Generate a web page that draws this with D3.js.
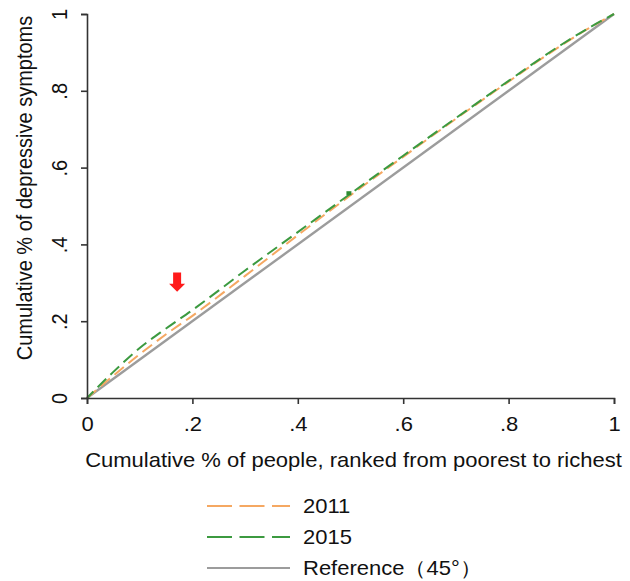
<!DOCTYPE html>
<html>
<head>
<meta charset="utf-8">
<script src="https://cdn.jsdelivr.net/npm/d3@7"></script>
<style>
  body { margin: 0; background: #fff; }
  text { font-family: "Liberation Sans", Arial, sans-serif; fill: #111; }
</style>
</head>
<body>
<div id="viz"></div>
<script>
var width = 630;
var height = 581;
var margin = {top: 14, right: 16, bottom: 183, left: 87};
var stretch = 1.1; // text in the picture is a bit wider than tall

// cumulative share of people (x) and of depressive symptoms (y)
var shares = [0, 0.05, 0.1, 0.15, 0.2, 0.3, 0.4, 0.5, 0.6, 0.7, 0.8, 0.9, 0.95, 1];
var curve2011 = [0, 0.058, 0.114, 0.166, 0.214, 0.318, 0.424, 0.528, 0.628, 0.727, 0.824, 0.918, 0.961, 1];
var curve2015 = [0, 0.068, 0.13, 0.181, 0.229, 0.332, 0.432, 0.532, 0.631, 0.729, 0.826, 0.920, 0.962, 1];
var reference = [0, 1];
var ticks = [0, 0.2, 0.4, 0.6, 0.8, 1];
var tickLabels = ['0', '.2', '.4', '.6', '.8', '1'];
var seriesNames = ['2011', '2015', 'Reference\uFF0845\u00B0\uFF09'];
var colors = ['#f5a862', '#3c9a40', '#9c9c9c'];
var marker = {x: 0.497, y: 0.532};
var arrow = {x: 0.171, top: 0.327, tip: 0.277};

var plotW = width - margin.left - margin.right;
var plotH = height - margin.top - margin.bottom;

var x = d3.scaleLinear().domain([0, 1]).range([0, plotW]);
var y = d3.scaleLinear().domain([0, 1]).range([plotH, 0]);

var svg = d3.select('#viz')
  .append('svg')
  .attr('width', width)
  .attr('height', height)
  .style('background', '#fff');

var g = svg.append('g')
  .attr('transform', 'translate(' + margin.left + ',' + margin.top + ')');

var line = d3.line()
  .x(function(d) { return x(d[0]); })
  .y(function(d) { return y(d[1]); })
  .curve(d3.curveMonotoneX);

// reference diagonal
g.append('path')
  .datum(reference.map(function(v) { return [v, v]; }))
  .attr('d', line)
  .attr('fill', 'none')
  .attr('stroke', colors[2])
  .attr('stroke-width', 2.4);

// concentration curves
[curve2011, curve2015].forEach(function(vals, i) {
  g.append('path')
    .datum(shares.map(function(s, j) { return [s, vals[j]]; }))
    .attr('d', line)
    .attr('fill', 'none')
    .attr('stroke', colors[i])
    .attr('stroke-width', 2)
    .attr('stroke-dasharray', '12,6')
    .attr('stroke-dashoffset', i * 3);
});

// small marker on the curves
g.append('rect')
  .attr('x', x(marker.x) - 2.5)
  .attr('y', y(marker.y) - 2.5)
  .attr('width', 5)
  .attr('height', 4)
  .attr('fill', '#2e8b33');

// axes
var xAxis = d3.axisBottom(x).tickValues(ticks)
  .tickFormat(function(d, i) { return tickLabels[i]; })
  .tickSize(6).tickPadding(8);
var yAxis = d3.axisLeft(y).tickValues(ticks)
  .tickFormat(function(d, i) { return tickLabels[i]; })
  .tickSize(6).tickPadding(8);

var xg = g.append('g')
  .attr('transform', 'translate(0,' + plotH + ')')
  .call(xAxis);
var yg = g.append('g').call(yAxis);

[xg, yg].forEach(function(a) {
  a.select('.domain').attr('stroke', '#333').attr('stroke-width', 1.6);
  a.selectAll('.tick line').attr('stroke', '#333').attr('stroke-width', 1.6);
  a.selectAll('text').style('font-size', '20px').attr('fill', '#111');
});
xg.selectAll('.tick text')
  .attr('dy', '0.95em')
  .attr('transform', 'scale(' + stretch + ',1)');
yg.selectAll('.tick text')
  .attr('text-anchor', 'middle')
  .attr('x', null)
  .attr('dy', null)
  .attr('transform', 'translate(-20,0) rotate(-90) scale(1,' + stretch + ')');

// red arrow annotation
var ax = x(arrow.x), aTop = y(arrow.top), aTip = y(arrow.tip);
var headH = 8;
g.append('path')
  .attr('d', 'M' + (ax - 4) + ',' + aTop + 'L' + (ax + 4) + ',' + aTop +
    'L' + (ax + 4) + ',' + (aTip - headH) + 'L' + (ax + 8) + ',' + (aTip - headH) +
    'L' + ax + ',' + aTip + 'L' + (ax - 8) + ',' + (aTip - headH) +
    'L' + (ax - 4) + ',' + (aTip - headH) + 'Z')
  .attr('fill', '#ff1a1a');

// axis titles
svg.append('text')
  .attr('transform', 'translate(' + (margin.left + plotW / 2 + 3) + ',467) scale(' + stretch + ',1)')
  .attr('text-anchor', 'middle')
  .style('font-size', '20px')
  .text('Cumulative % of people, ranked from poorest to richest');

svg.append('text')
  .attr('transform', 'translate(32,' + (margin.top + plotH / 2 - 18) + ') rotate(-90) scale(1,' + stretch + ')')
  .attr('text-anchor', 'middle')
  .style('font-size', '20px')
  .text('Cumulative % of depressive symptoms');

// legend
var legend = svg.append('g').attr('transform', 'translate(207,506)');
seriesNames.forEach(function(name, i) {
  var row = legend.append('g').attr('transform', 'translate(0,' + (i * 31) + ')');
  row.append('line')
    .attr('x1', 0).attr('x2', 83)
    .attr('stroke', colors[i])
    .attr('stroke-width', 2)
    .attr('stroke-dasharray', i < 2 ? '25,7.5' : null);
  row.append('text')
    .attr('transform', 'translate(96,0) scale(' + stretch + ',1)')
    .attr('dy', '0.36em')
    .style('font-size', '20px')
    .text(name);
});
</script>
</body>
</html>
